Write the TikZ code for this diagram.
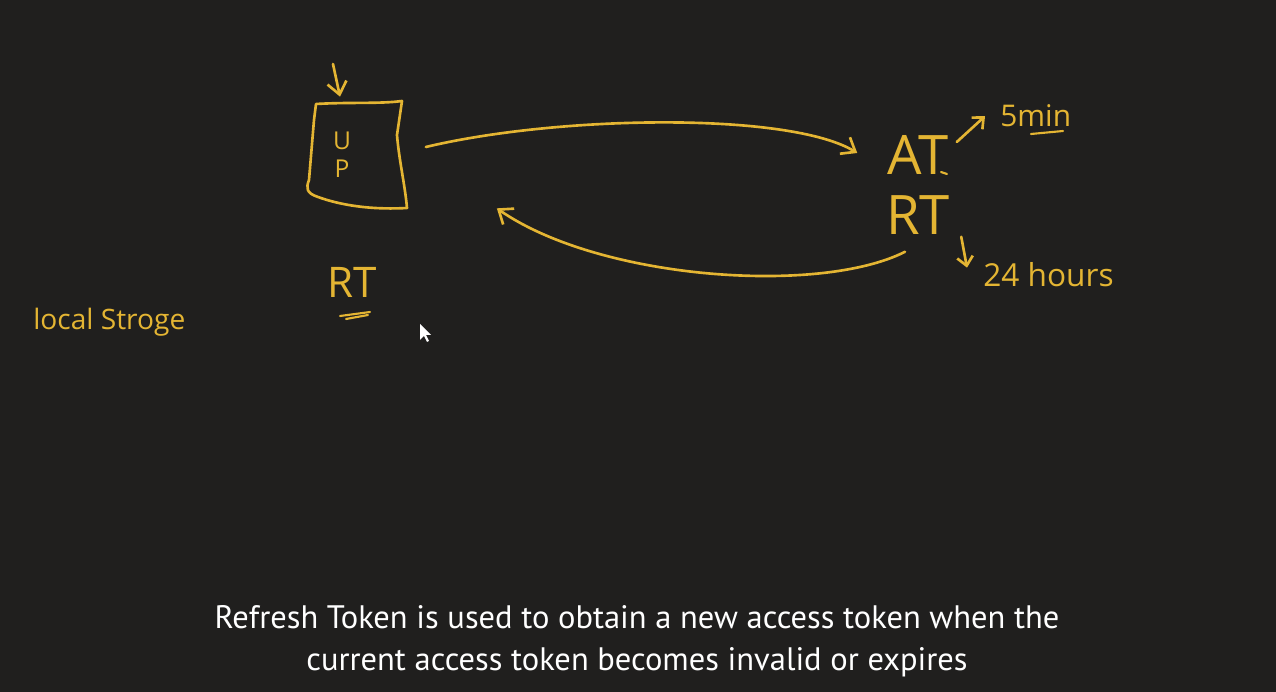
\documentclass[tikz,border=0pt]{standalone}
\usepackage{fontspec}
\setmainfont{PT Sans}
\newfontfamily\handfont{Open Sans}
\usetikzlibrary{arrows.meta}
\definecolor{board}{HTML}{201F1E}
\definecolor{chalk}{HTML}{E4B533}
\tikzset{
  pen/.style={draw=chalk,line width=1.5pt,line cap=round,line join=round},
  penarrow/.style={pen,-{Straight Barb[length=7pt,width=11pt,line width=1.5pt]}},
  smallarrow/.style={pen,-{Straight Barb[length=5pt,width=9pt,line width=1.5pt]}},
  scrawl/.style={text=chalk,inner sep=0pt,font=\handfont\fontsize{#1}{#1}\selectfont},
  caption/.style={text=white,inner sep=0pt,anchor=base,font=\fontsize{18.5}{24}\selectfont}
}
\begin{document}
\begin{tikzpicture}[x=0.02cm,y=-0.02cm]
\fill[board] (0,0) rectangle (1276,692);
\useasboundingbox (0,0) rectangle (1276,692);

% user / password box
\node[minimum width=1.9cm,minimum height=2cm,inner sep=0pt] (up) at (356,154) {};
\draw[pen] (316,104) .. controls (350,102) and (380,104) .. (402,101) -- (397,135) .. controls (399,160) and (405,185) .. (407,208)
  .. controls (370,210) and (340,205) .. (318,197) .. controls (306,193) and (306,188) .. (309,180) -- (314,120) -- cycle;
\node[scrawl=14] (u) at (342,141) {U};
\node[scrawl=14] (p) at (342,169) {P};
\coordinate (drop) at (333,64);
\draw[penarrow] (drop) -- ([shift={(-16,-7)}]up.north);

% tokens
\node[scrawl=31] (at) at (918,155) {AT};
\node[scrawl=31] (rt) at (918,215) {RT};
\draw[pen,line width=1.2pt] (941,172) -- (947,174);
\draw[penarrow] ([shift={(22,-7)}]up.east) .. controls (560,115) and (790,112) .. ([shift={(-30,-2)}]at.west);
\draw[penarrow] ([shift={(-13,17)}]rt.south) .. controls (820,295) and (600,280) .. ([shift={(93,4)}]up.south east);

% lifetimes
\node[scrawl=17,anchor=base west] (five) at (1000,127) {5min};
\draw[pen,line width=1.2pt] (1031,134) -- (1063,131);
\draw[smallarrow] ([shift={(8,-13)}]at.east) -- ([shift={(-15,0)}]five.west);
\node[scrawl=18,anchor=base west] (day) at (983,287) {24 hours};
\draw[smallarrow] ([shift={(11,2)}]rt.south east) -- ([shift={(-16,5)}]day.north west);

% storage side
\node[scrawl=24] (stored) at (352,282) {RT};
\draw[pen,line width=1.2pt] (340,316) -- (370,312);
\draw[pen,line width=1.2pt] (346,319) -- (368,315);
\node[scrawl=16,anchor=base west] (store) at (33,330) {local Stroge};

% mouse pointer
\fill[white] (420,324) -- (420,340) -- (424,336) -- (427,342) -- (429,341) -- (426,335) -- (431,335) -- cycle;

% subtitle
\node[caption] (cap1) at (637,629) {Refresh Token is used to obtain a new access token when the};
\node[caption] (cap2) at (637,671) {current access token becomes invalid or expires};
\end{tikzpicture}
\end{document}
